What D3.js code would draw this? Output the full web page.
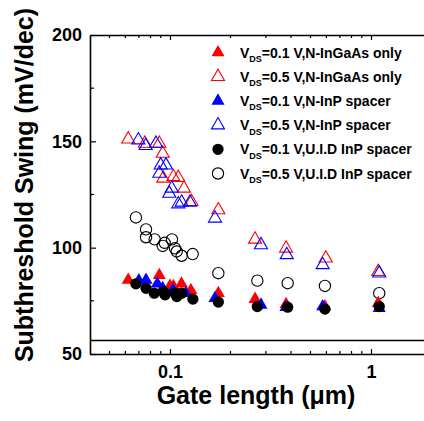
<!DOCTYPE html>
<html>
<head>
<meta charset="utf-8">
<script src="https://cdn.jsdelivr.net/npm/d3@7"></script>
<style>
  body { margin: 0; background: #fff; }
  text { font-family: "Liberation Sans", Arial, sans-serif; font-weight: bold; }
</style>
</head>
<body>
<svg id="chart" width="424" height="421"></svg>
<script>
'use strict';

// gate length (um) and subthreshold swing (mV/dec) for each series
const redFilledL = [0.062, 0.0885, 0.100, 0.104, 0.114, 0.127, 0.174, 0.265, 0.378, 0.59, 1.087];
const redFilledS = [84.8, 87.0, 82.0, 81.8, 83.0, 80.0, 78.6, 75.8, 73.4, 72.3, 73.9];

const redOpenL = [0.062, 0.075, 0.0885, 0.092, 0.0926, 0.1039, 0.110, 0.1174, 0.128, 0.174, 0.265, 0.378, 0.596, 1.087];
const redOpenS = [151.0, 149.0, 149.0, 144.3, 132.6, 133.3, 132.9, 127.9, 121.6, 117.7, 103.9, 99.7, 95.0, 88.7];

const blueFilledL = [0.070, 0.076, 0.0865, 0.092, 0.1035, 0.120, 0.1675, 0.2836, 0.3776, 0.575, 1.099];
const blueFilledS = [84.5, 84.8, 83.0, 80.9, 80.1, 78.6, 76.2, 73.1, 72.0, 72.3, 71.5];

const blueOpenL = [0.0696, 0.0757, 0.0852, 0.0899, 0.0955, 0.0885, 0.102, 0.0992, 0.1143, 0.1257, 0.110, 0.1675, 0.2836, 0.381, 0.575, 1.099];
const blueOpenS = [150.6, 147.9, 149.0, 138.8, 138.8, 134.9, 127.9, 125.5, 121.3, 121.3, 120.5, 113.8, 101.3, 96.6, 91.9, 88.0];

const blackFilledL = [0.0677, 0.076, 0.0835, 0.093, 0.0945, 0.1059, 0.1082, 0.1143, 0.130, 0.174, 0.272, 0.385, 0.59, 1.099];
const blackFilledS = [83.0, 80.9, 78.6, 79.3, 77.8, 78.6, 77.0, 78.6, 75.8, 74.4, 72.3, 72.0, 71.1, 72.3];

const blackOpenL = [0.0677, 0.076, 0.076, 0.0839, 0.092, 0.0941, 0.1023, 0.1059, 0.108, 0.1143, 0.1297, 0.174, 0.272, 0.385, 0.59, 1.099];
const blackOpenS = [114.2, 108.6, 104.9, 103.9, 100.8, 102.3, 103.9, 99.7, 98.2, 96.2, 97.0, 88.0, 84.5, 83.3, 82.0, 78.6];

const refSwing = 56.3;

const xMajor = [0.1, 1];
const xMinor = [0.05, 0.06, 0.07, 0.08, 0.09, 0.2, 0.3, 0.4, 0.5, 0.6, 0.7, 0.8, 0.9];
const yMajor = [50, 100, 150, 200];
const yMinor = [75, 125, 175];

// draw order: back to front
const series = [
    { L: redOpenL, S: redOpenS, shape: "tri", color: "#ff0000", filled: false, vds: "0.5", label: "N-InGaAs only" },
    { L: blueOpenL, S: blueOpenS, shape: "tri", color: "#0000ff", filled: false, vds: "0.5", label: "N-InP spacer" },
    { L: blackOpenL, S: blackOpenS, shape: "circle", color: "#000000", filled: false, vds: "0.5", label: "U.I.D InP spacer" },
    { L: redFilledL, S: redFilledS, shape: "tri", color: "#ff0000", filled: true, vds: "0.1", label: "N-InGaAs only" },
    { L: blueFilledL, S: blueFilledS, shape: "tri", color: "#0000ff", filled: true, vds: "0.1", label: "N-InP spacer" },
    { L: blackFilledL, S: blackFilledS, shape: "circle", color: "#000000", filled: true, vds: "0.1", label: "U.I.D InP spacer" }
];
const legendOrder = [3, 0, 4, 1, 5, 2];

const margin = { left: 90, top: 35, bottom: 354, right: 431.5 };
const svg = d3.select("#chart");

const x = d3.scaleLog().domain([0.04, 2]).range([margin.left, margin.right]);
const y = d3.scaleLinear().domain([50, 200]).range([margin.bottom, margin.top]);

function symbolPath(shape) {
    if (shape === "tri") return d3.symbol().type(d3.symbolTriangle).size(74)();
    return d3.symbol().type(d3.symbolCircle).size(100)();
}

// reference line
svg.append("line")
    .attr("x1", x(0.04)).attr("x2", x(2))
    .attr("y1", y(refSwing)).attr("y2", y(refSwing))
    .attr("stroke", "#000").attr("stroke-width", 1.5);

// data markers
series.forEach(s => {
    svg.append("g").selectAll("path")
        .data(s.L.map((l, i) => [l, s.S[i]]))
        .join("path")
        .attr("d", symbolPath(s.shape))
        .attr("transform", d => `translate(${x(d[0])},${y(d[1])})`)
        .attr("fill", s.filled ? s.color : "none")
        .attr("stroke", s.color)
        .attr("stroke-width", s.filled ? 0 : 1.1);
});

// axes
function styleAxis(g) {
    g.select(".domain").attr("stroke-width", 1.6);
    g.selectAll("line").attr("stroke-width", 1.2);
    g.selectAll("text").attr("font-size", 18).attr("fill", "#000");
}

svg.append("g")
    .attr("transform", `translate(0,${margin.bottom})`)
    .call(d3.axisBottom(x).tickValues(xMajor).tickSize(-5).tickSizeOuter(0)
        .tickPadding(11).tickFormat(d3.format("")))
    .call(styleAxis)
    .call(g => g.selectAll(".minor").data(xMinor).join("line")
        .attr("class", "minor")
        .attr("x1", d => x(d)).attr("x2", d => x(d))
        .attr("y1", 0).attr("y2", -3)
        .attr("stroke", "#000").attr("stroke-width", 1.2));

svg.append("g")
    .attr("transform", `translate(0,${margin.top})`)
    .call(d3.axisTop(x).tickValues(xMajor).tickSize(-5).tickSizeOuter(0).tickFormat(""))
    .call(styleAxis)
    .call(g => g.selectAll(".minor").data(xMinor).join("line")
        .attr("class", "minor")
        .attr("x1", d => x(d)).attr("x2", d => x(d))
        .attr("y1", 0).attr("y2", 3)
        .attr("stroke", "#000").attr("stroke-width", 1.2));

svg.append("g")
    .attr("transform", `translate(${margin.left},0)`)
    .call(d3.axisLeft(y).tickValues(yMajor).tickSize(-6).tickSizeOuter(0).tickPadding(8))
    .call(styleAxis)
    .call(g => g.selectAll(".minor").data(yMinor).join("line")
        .attr("class", "minor")
        .attr("y1", d => y(d)).attr("y2", d => y(d))
        .attr("x1", 0).attr("x2", 4)
        .attr("stroke", "#000").attr("stroke-width", 1.2));

// axis titles
svg.append("text")
    .attr("x", 256).attr("y", 404)
    .attr("text-anchor", "middle")
    .attr("font-size", 25)
    .text("Gate length (\u03bcm)");

svg.append("text")
    .attr("transform", "translate(33,185) rotate(-90)")
    .attr("text-anchor", "middle")
    .attr("font-size", 25)
    .text("Subthreshold Swing (mV/dec)");

// legend
const legend = svg.append("g");
legendOrder.forEach((idx, i) => {
    const s = series[idx];
    const cy = 52.5 + i * 24.2;
    legend.append("path")
        .attr("d", symbolPath(s.shape))
        .attr("transform", `translate(218,${cy})`)
        .attr("fill", s.filled ? s.color : "none")
        .attr("stroke", s.color)
        .attr("stroke-width", s.filled ? 0 : 1.1);
    const t = legend.append("text")
        .attr("x", 240).attr("y", cy + 5)
        .attr("font-size", 14);
    t.append("tspan").text("V");
    t.append("tspan").attr("font-size", 9).attr("dy", 4.5).text("DS");
    t.append("tspan").attr("dy", -4.5).text(`=${s.vds} V,${s.label}`);
});
</script>
</body>
</html>
